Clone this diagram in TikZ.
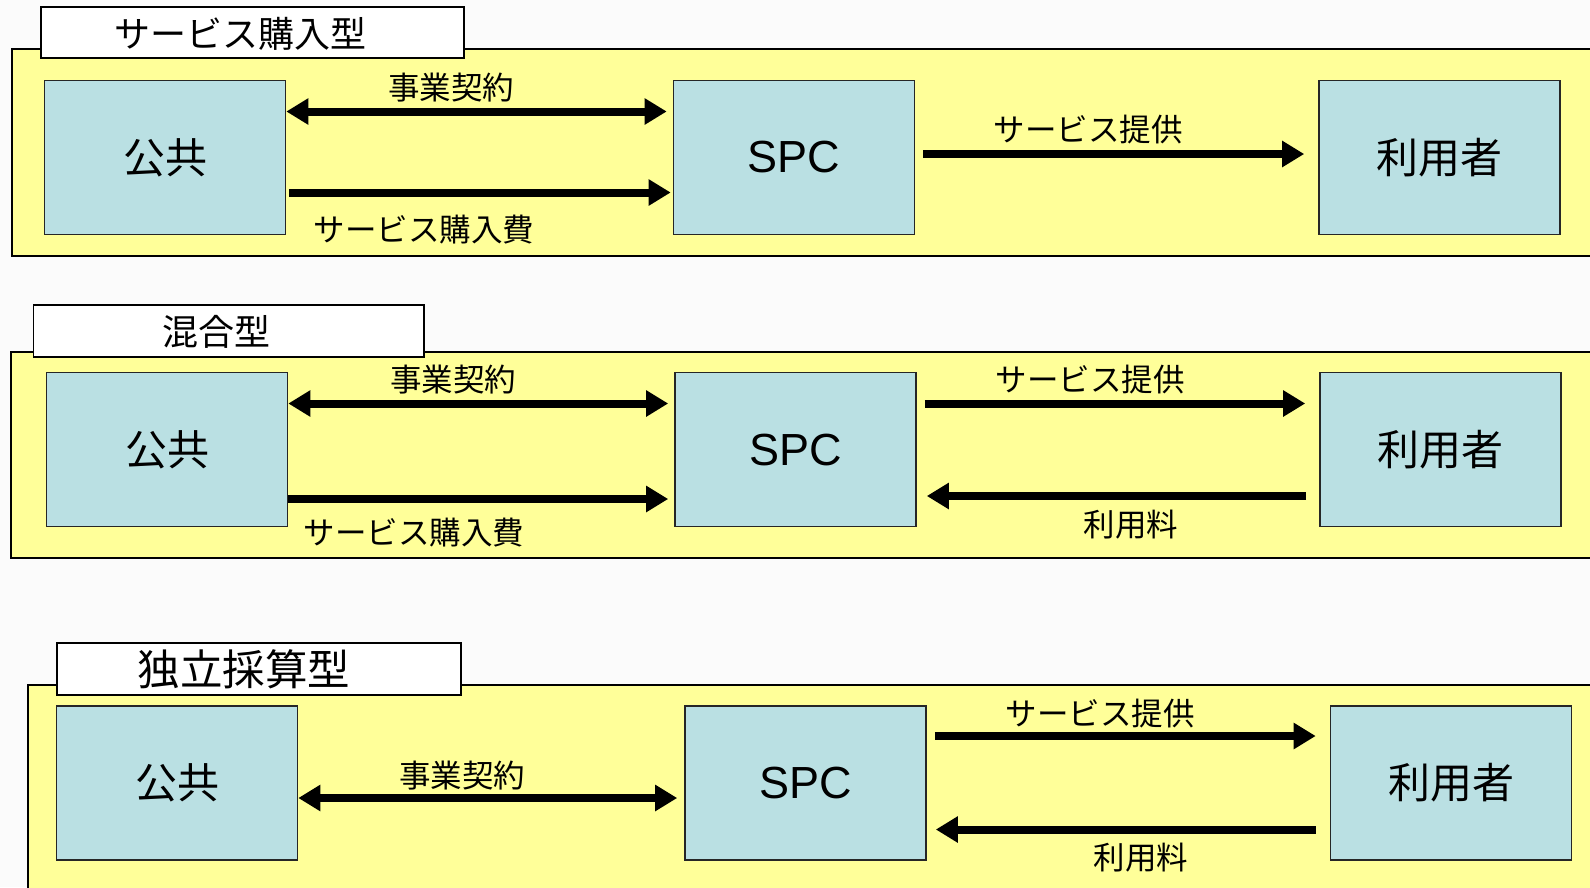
\documentclass[tikz,border=0pt]{standalone}
\usepackage{fontspec}
\setmainfont{Noto Sans CJK JP}
\newfontfamily\latinfont{Liberation Sans}
\usetikzlibrary{arrows.meta}
\definecolor{panelyellow}{RGB}{255,255,153}
\definecolor{boxblue}{RGB}{186,224,227}
\definecolor{bgwhite}{RGB}{251,251,251}
\begin{document}
\begin{tikzpicture}[x=1pt,y=-1pt,
  panel/.style={draw=black, line width=2pt, fill=panelyellow},
  titlebox/.style={draw=black, line width=1.8pt, fill=white},
  entity/.style={draw=black!85, line width=1.6pt, fill=boxblue, minimum width=241pt, minimum height=154pt, inner sep=0pt, font=\fontsize{42}{44}\selectfont},
  spcent/.style={entity, font=\latinfont\fontsize{45}{47}\selectfont},
  arr/.style={line width=8pt, -{Triangle[length=22pt,width=25pt]}},
  darr/.style={line width=8pt, {Triangle[length=22pt,width=25pt]}-{Triangle[length=22pt,width=25pt]}},
  lbl/.style={inner sep=0pt, font=\fontsize{31.5}{33}\selectfont},
  ttl/.style={inner sep=0pt, font=\fontsize{36}{38}\selectfont}
]
\useasboundingbox (0,0) rectangle (1590,887);
\fill[bgwhite] (0,0) rectangle (1590,887);

% ---------- Panel 1 ----------
\draw[panel] (12,49) rectangle (1605,256);
\draw[titlebox] (40.6,7) rectangle (464,58);
\node[ttl] (t1) at (240,33.5) {サービス購入型};
\node[entity] (pub1) at (165,157.5) {公共};
\node[spcent] (spc1) at (794,157.5) {SPC};
\node[entity] (usr1) at (1439.5,157.5) {利用者};
\draw[darr] ([yshift=46pt]pub1.east) -- ([yshift=46pt,xshift=-6pt]spc1.west);
\draw[arr] ([yshift=-35pt,xshift=3pt]pub1.east) -- ([yshift=-35pt,xshift=-2pt]spc1.west);
\draw[arr] ([yshift=3.5pt,xshift=8pt]spc1.east) -- ([yshift=3.5pt,xshift=-14pt]usr1.west);
\node[lbl] (l1a) at (451,88) {事業契約};
\node[lbl] (l1b) at (424,230) {サービス購入費};
\node[lbl] (l1c) at (1088,130) {サービス提供};

% ---------- Panel 2 ----------
\draw[panel] (11,352) rectangle (1605,558);
\draw[titlebox] (33.5,305) rectangle (424,357);
\node[ttl] (t2) at (216,331.5) {混合型};
\node[entity] (pub2) at (167,449.5) {公共};
\node[spcent] (spc2) at (795.5,449.5) {SPC};
\node[entity] (usr2) at (1440.5,449.5) {利用者};
\draw[darr] ([yshift=46pt]pub2.east) -- ([yshift=46pt,xshift=-6pt]spc2.west);
\draw[arr] ([yshift=-49.5pt]pub2.east) -- ([yshift=-49.5pt,xshift=-6pt]spc2.west);
\draw[arr] ([yshift=46pt,xshift=8pt]spc2.east) -- ([yshift=46pt,xshift=-14pt]usr2.west);
\draw[arr] ([yshift=-46.5pt,xshift=-13pt]usr2.west) -- ([yshift=-46.5pt,xshift=10pt]spc2.east);
\node[lbl] (l2a) at (453,380) {事業契約};
\node[lbl] (l2b) at (414,533) {サービス購入費};
\node[lbl] (l2c) at (1090,380) {サービス提供};
\node[lbl] (l2d) at (1131,525) {利用料};

% ---------- Panel 3 ----------
\draw[panel] (28.4,684.5) rectangle (1605,900);
\draw[titlebox] (57,643) rectangle (461,695);
\node[ttl, font=\fontsize{42.5}{44}\selectfont] (t3) at (244,669) {独立採算型};
\node[entity] (pub3) at (177,783) {公共};
\node[spcent] (spc3) at (805.5,783) {SPC};
\node[entity] (usr3) at (1451,783) {利用者};
\draw[darr] ([yshift=-15pt]pub3.east) -- ([yshift=-15pt,xshift=-7pt]spc3.west);
\draw[arr] ([yshift=47pt,xshift=8pt]spc3.east) -- ([yshift=47pt,xshift=-14pt]usr3.west);
\draw[arr] ([yshift=-46.5pt,xshift=-14pt]usr3.west) -- ([yshift=-46.5pt,xshift=9pt]spc3.east);
\node[lbl] (l3a) at (462,776) {事業契約};
\node[lbl] (l3c) at (1100,714) {サービス提供};
\node[lbl] (l3d) at (1141,858) {利用料};
\end{tikzpicture}
\end{document}
